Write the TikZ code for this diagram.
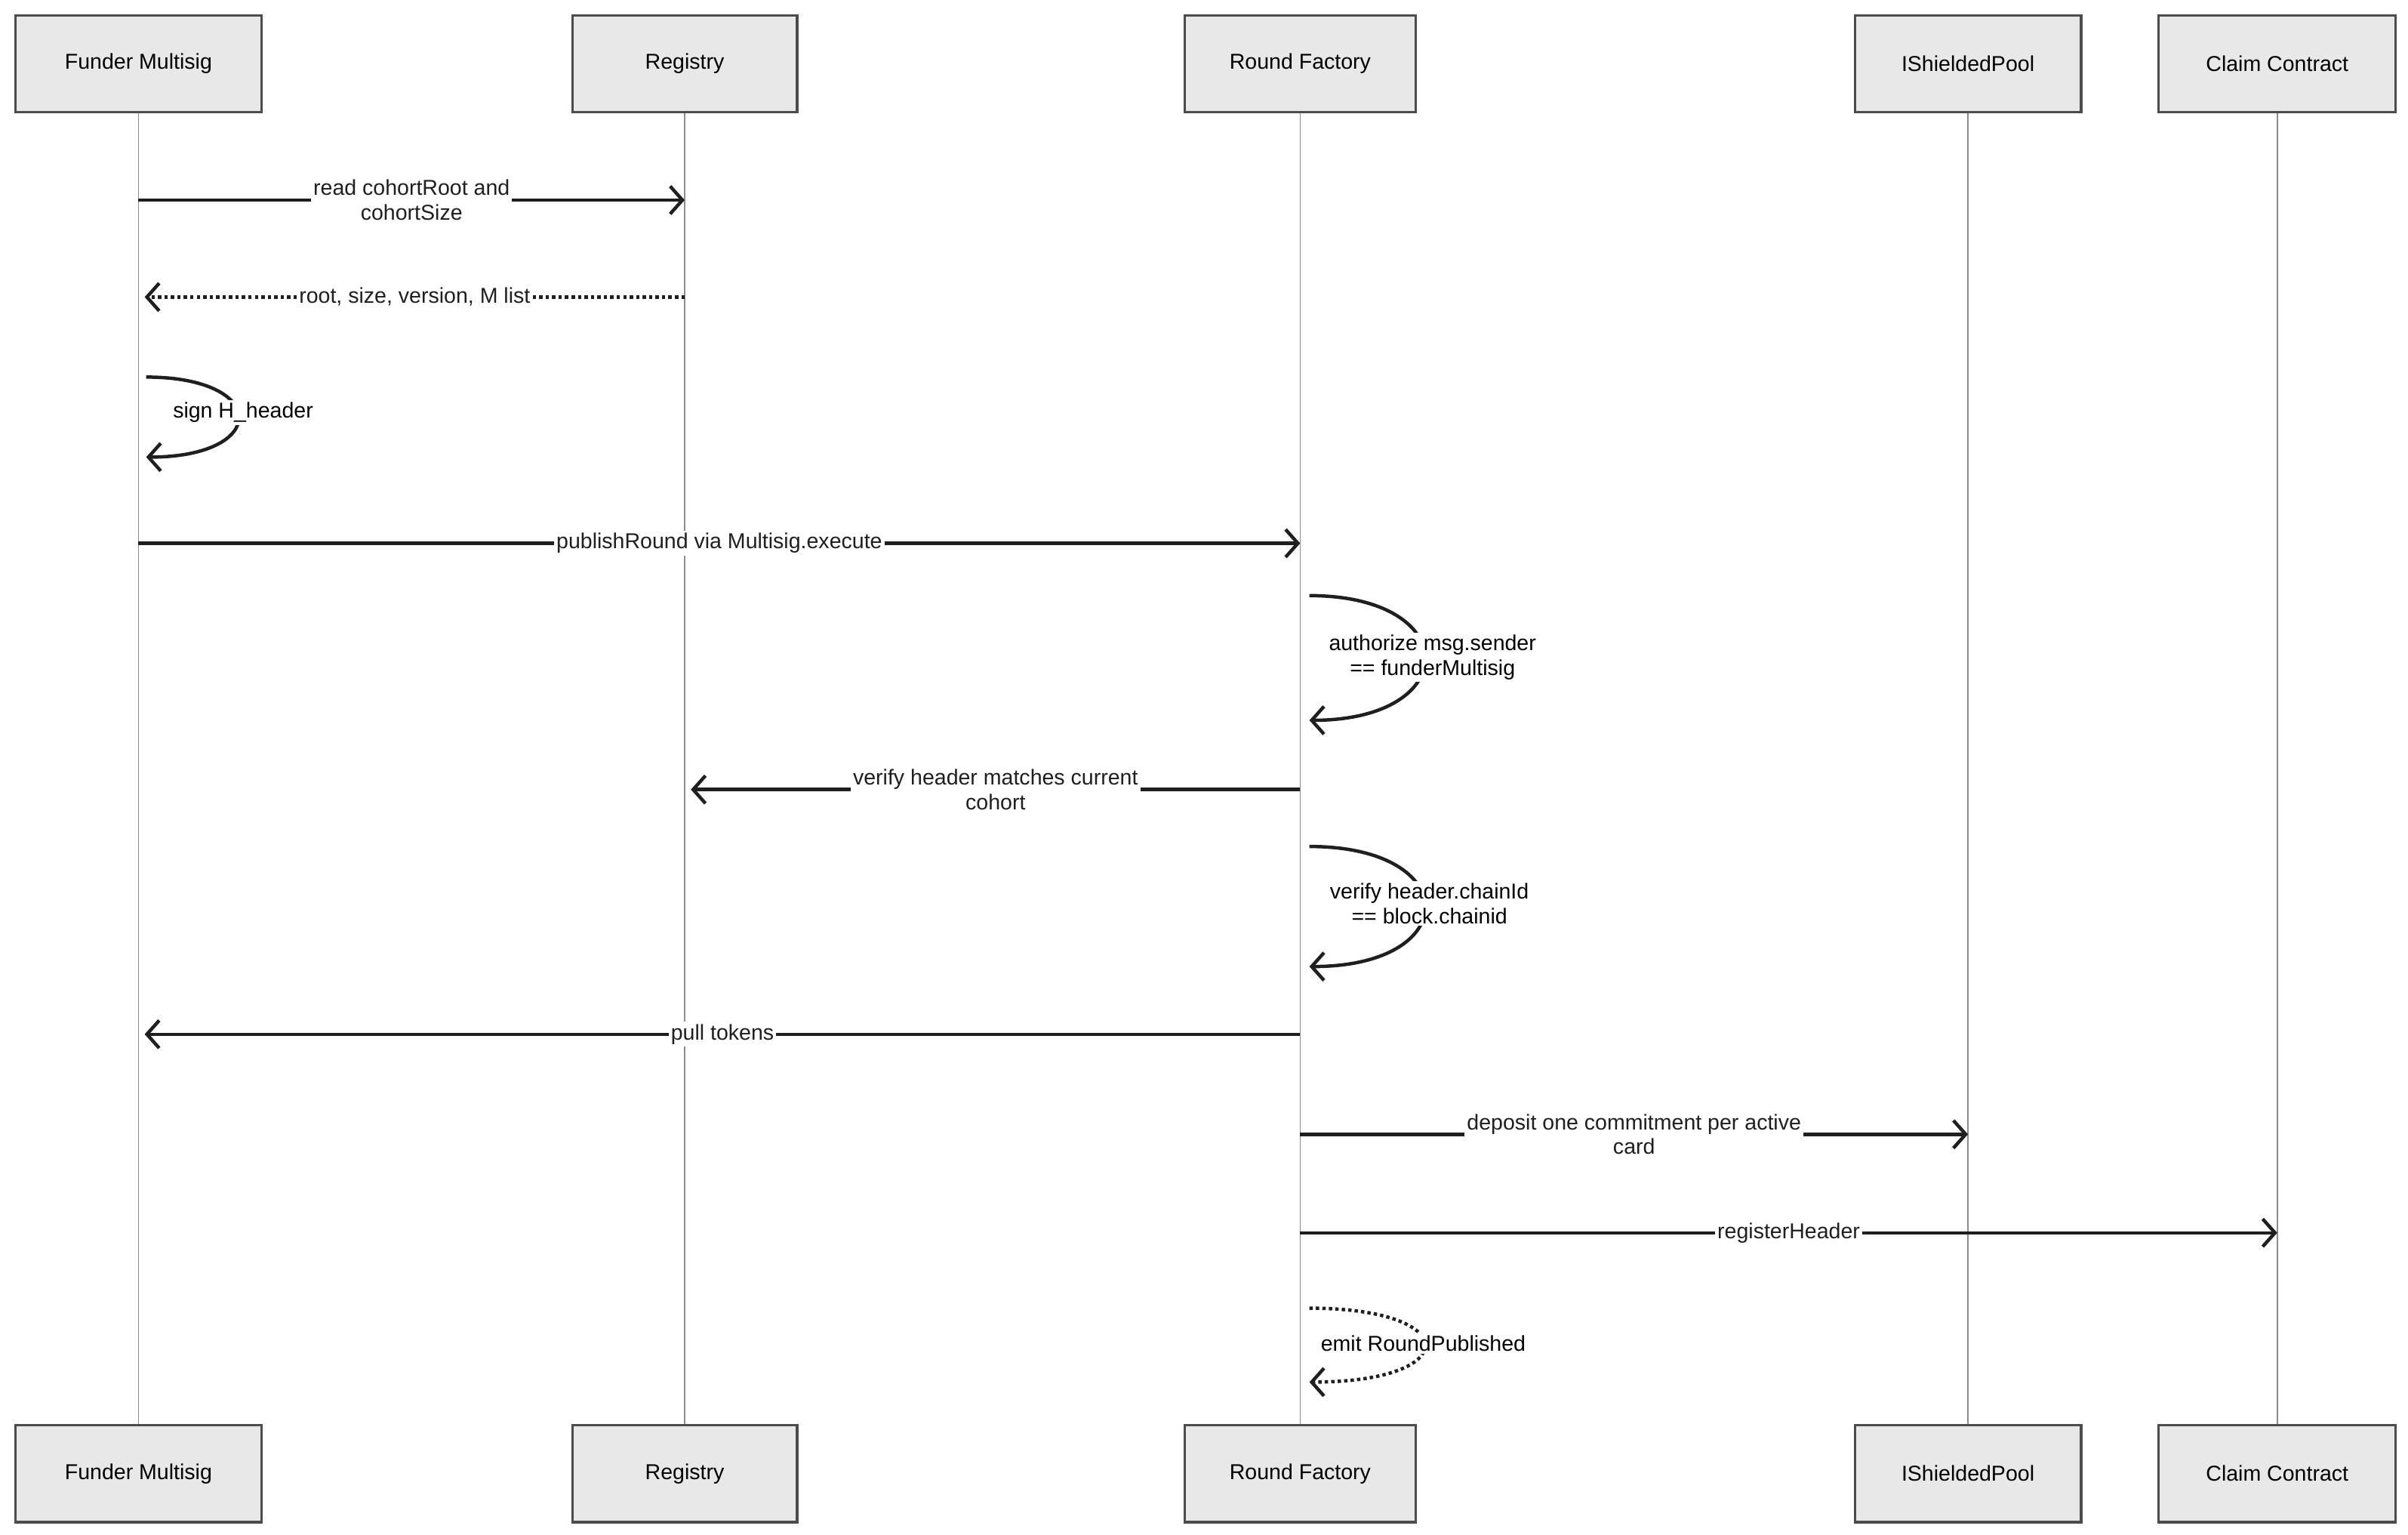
\documentclass[tikz,border=0pt]{standalone}
\usepackage{fontspec}
\setmainfont{Liberation Sans}
\usetikzlibrary{positioning,arrows.meta,calc}
\begin{document}
\begin{tikzpicture}[
    x=1pt, y=-1pt,
    font=\fontsize{14}{16}\selectfont,
    actor/.style={draw=black!70, line width=1.6pt, fill=black!9, minimum height=63pt, font=\fontsize{14}{16}\selectfont},
    life/.style={black!45, line width=0.8pt},
    msg/.style={line width=2.2pt, black!88, -{Straight Barb[length=8pt,width=18pt]}},
    reply/.style={msg, dotted, -{Straight Barb[open,length=8pt,width=18pt]}},
    lbl/.style={fill=white, inner sep=1.5pt, align=center}
    ]
    \useasboundingbox (0,0) rectangle (1565,997);
    % participants
    \foreach \n/\x/\w/\t in {fm/90/160/Funder Multisig, reg/445/146/Registry, rf/845/150/Round Factory, sp/1279/147/IShieldedPool, cc/1480/154/Claim Contract}{
        \node[actor, minimum width=\w pt] (\n) at (\x,41.5) {\t};
        \node[actor, minimum width=\w pt] (\n b) at (\x,957.5) {\t};
        \draw[life] (\n) -- (\n b);
    }
    % messages
    \draw[msg] (fm |- 0,130) -- node[lbl] {read cohortRoot and\\cohortSize} (reg |- 0,130);
    \draw[reply] (reg |- 0,193) -- node[lbl] {root, size, version, M list} ($(fm |- 0,193)+(4,0)$);
    \draw[msg] ($(fm |- 0,245)+(5,0)$) .. controls +(80,0) and +(80,0) .. ($(fm |- 0,297)+(5,0)$);
    \node[lbl] (l3) at (158,268) {sign H\_header};
    \draw[msg] (fm |- 0,353) -- node[lbl] {publishRound via Multisig.execute} (rf |- 0,353);
    \draw[msg] ($(rf |- 0,387)+(6,0)$) .. controls +(100,0) and +(100,0) .. ($(rf |- 0,468)+(6,0)$);
    \node[lbl] (l5) at (931,427) {authorize msg.sender\\== funderMultisig};
    \draw[msg] (rf |- 0,513) -- node[lbl] {verify header matches current\\cohort} ($(reg |- 0,513)+(4,0)$);
    \draw[msg] ($(rf |- 0,550)+(6,0)$) .. controls +(100,0) and +(100,0) .. ($(rf |- 0,628)+(6,0)$);
    \node[lbl] (l7) at (929,587) {verify header.chainId\\== block.chainid};
    \draw[msg] (rf |- 0,672) -- node[lbl] {pull tokens} ($(fm |- 0,672)+(4,0)$);
    \draw[msg] (rf |- 0,737) -- node[lbl] {deposit one commitment per active\\card} (sp |- 0,737);
    \draw[msg] (rf |- 0,801) -- node[lbl] {registerHeader} (cc |- 0,801);
    \draw[reply] ($(rf |- 0,850)+(6,0)$) .. controls +(100,0) and +(100,0) .. ($(rf |- 0,898)+(6,0)$);
    \node[lbl] (l11) at (925,873) {emit RoundPublished};
\end{tikzpicture}
\end{document}
